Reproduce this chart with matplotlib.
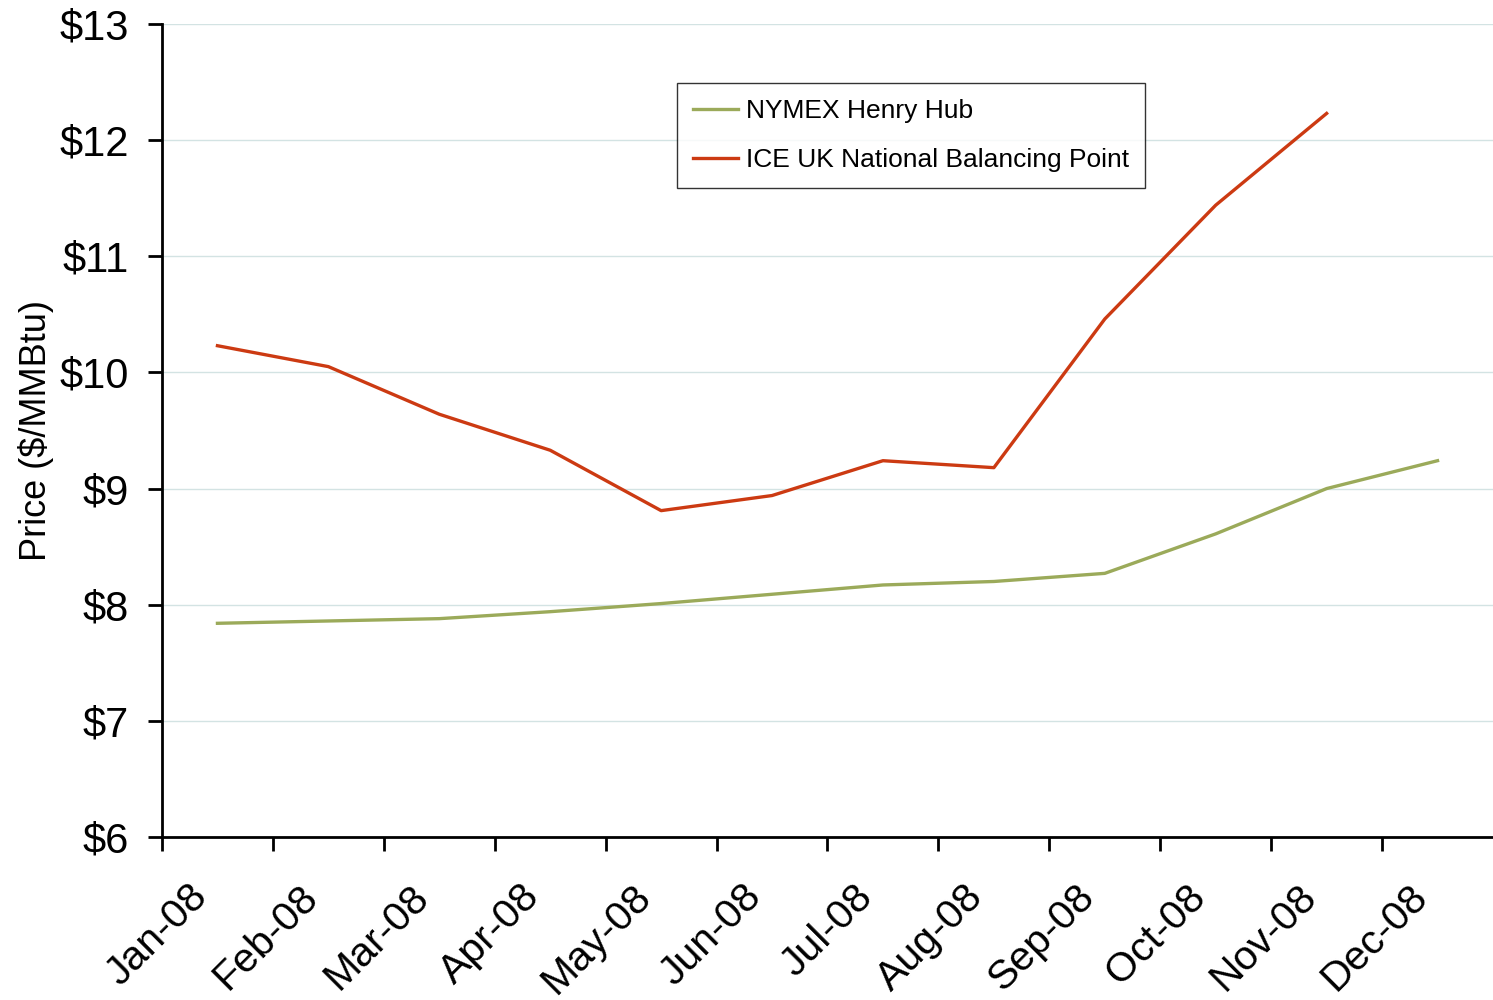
import matplotlib.pyplot as plt
import matplotlib.transforms as mtransforms
import numpy as np

plt.rcParams['font.family'] = ['Liberation Sans', 'DejaVu Sans']

months = ['Jan-08', 'Feb-08', 'Mar-08', 'Apr-08', 'May-08', 'Jun-08',
          'Jul-08', 'Aug-08', 'Sep-08', 'Oct-08', 'Nov-08', 'Dec-08']
henry_hub = [7.84, 7.86, 7.88, 7.94, 8.01, 8.09, 8.17, 8.20, 8.27, 8.61, 9.00, 9.24]
nbp = [10.23, 10.05, 9.64, 9.33, 8.81, 8.94, 9.24, 9.18, 10.46, 11.44, 12.23, np.nan]
y_ticks = [6, 7, 8, 9, 10, 11, 12, 13]

fig = plt.figure(figsize=(14.93, 10), dpi=100)
ax = fig.add_axes([0.1085, 0.163, 0.8915, 0.813])

x = np.arange(len(months))
ax.plot(x, henry_hub, color='#9BAA5A', lw=2.4, label='NYMEX Henry Hub')
ax.plot(x, nbp, color='#CC3A12', lw=2.4, label='ICE UK National Balancing Point')

ax.set_xlim(-0.5, len(months) - 0.5)
ax.set_ylim(6, 13)
ax.set_yticks(y_ticks)
ax.set_yticklabels([f'${v}' for v in y_ticks], fontsize=30)
ax.grid(axis='y', color='#D3E3E3', lw=1)
ax.set_axisbelow(True)

# tick marks between categories, labels at category centres
ax.set_xticks(np.arange(-0.5, len(months) - 0.5, 1))
ax.set_xticklabels([])
ax.set_xticks(x, minor=True)
ax.set_xticklabels(months, minor=True, fontsize=29.5, rotation=45,
                   ha='right', va='top', rotation_mode='anchor')
ax.tick_params(axis='x', which='minor', length=0, pad=14)
ax.tick_params(axis='both', which='major', length=10, width=2, color='black')
ax.tick_params(axis='y', pad=14)

shift = mtransforms.ScaledTranslation(-30 / 100, -21 / 100, fig.dpi_scale_trans)
for lbl in ax.get_xticklabels(minor=True):
    lbl.set_transform(lbl.get_transform() + shift)

for s in ['top', 'right']:
    ax.spines[s].set_visible(False)
for s in ['left', 'bottom']:
    ax.spines[s].set_linewidth(2)

ax.set_ylabel('Price ($/MMBtu)', fontsize=26, labelpad=4)

leg = ax.legend(loc='upper left', bbox_to_anchor=(0.387, 0.927), fontsize=19,
                frameon=True, fancybox=False, handlelength=1.7,
                handletextpad=0.3, labelspacing=0.95, borderpad=0.6,
                borderaxespad=0)
leg.get_frame().set_edgecolor('black')
leg.get_frame().set_linewidth(1)

fig.savefig('out.png', dpi=100)
